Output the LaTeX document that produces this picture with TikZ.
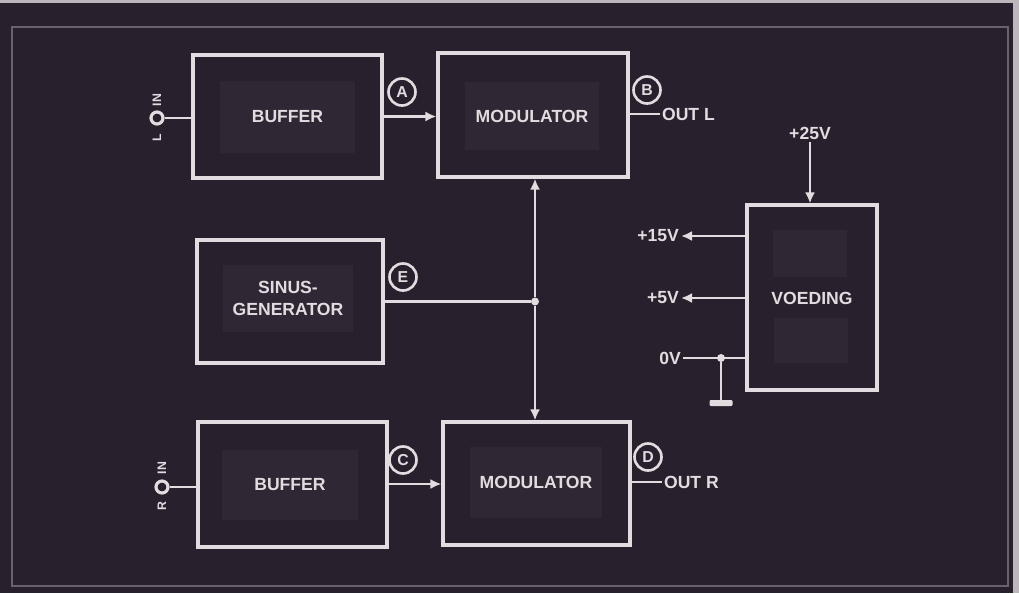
\documentclass[tikz,border=0pt]{standalone}
\usepackage{fontspec}
\setsansfont{Liberation Sans}
\usetikzlibrary{arrows.meta,calc,positioning}
\definecolor{achter}{RGB}{40,32,44}
\definecolor{wit}{RGB}{226,219,223}
\definecolor{vlek}{RGB}{47,39,51}
\tikzset{
  blok/.style={draw=wit,line width=1.8pt,inner sep=0pt},
  plak/.style={fill=vlek,inner sep=0pt,text=wit,align=center,
    font=\sffamily\bfseries\fontsize{10}{12.5}\selectfont},
  lijn/.style={draw=wit,line width=1.6pt},
  pijl/.style={lijn,-{Latex[length=2.2mm,width=2mm]}},
  letter/.style={circle,draw=wit,line width=1.5pt,minimum size=5.4mm,inner sep=0pt,
    text=wit,font=\sffamily\bfseries\small},
  klem/.style={circle,draw=wit,line width=1.8pt,minimum size=2.4mm,inner sep=0pt,fill=achter},
  etiket/.style={text=wit,inner sep=1pt,font=\sffamily\bfseries\fontsize{10}{12}\selectfont},
  klein/.style={text=wit,inner sep=0pt,font=\sffamily\bfseries\scriptsize},
  punt/.style={circle,fill=wit,inner sep=0pt,minimum size=1.6mm}
}

\begin{document}
\begin{tikzpicture}[x=0.02cm,y=-0.02cm]
\fill[achter] (0,0) rectangle (1019,593);
\useasboundingbox (0,0) rectangle (1019,593);
% rand van de foto
\fill[wit!80!achter] (0,0) rectangle (1019,3);
\fill[wit!80!achter] (1013,0) rectangle (1019,593);
\draw[wit!35!achter,line width=0.8pt] (12,27) rectangle (1008,586);

% kanaal L
\node[blok,minimum width=3.78cm,minimum height=2.46cm] (buf1) at (287.5,116.5) {};
\node[plak,minimum width=2.7cm,minimum height=1.44cm] (buf1t) at (buf1) {BUFFER};
\node[blok,minimum width=3.8cm,minimum height=2.48cm] (mod1) at (533,115) {};
\node[plak,minimum width=2.7cm,minimum height=1.36cm] (mod1t) at (532,116) {MODULATOR};
\node[klem] (inL) at (157,118) {};
\node[klein,rotate=90] (inLa) at (157,100) {IN};
\node[klein,rotate=90] (inLb) at (157,138) {L};
\draw[lijn] (inL) -- (inL -| buf1.west);
\draw[pijl] (buf1.east) -- (buf1.east -| mod1.west);
\node[letter] (A) at (402,92) {A};
\node[letter] (B) at (647,90) {B};
\node[etiket,anchor=west] (outL) at (660,114) {OUT L};
\draw[lijn] (outL.west -| mod1.east) -- (outL.west);

% sinusgenerator
\node[blok,minimum width=3.72cm,minimum height=2.46cm] (sinus) at (290,301.5) {};
\node[plak,minimum width=2.62cm,minimum height=1.34cm] (sinust) at (288,298) {SINUS-\\GENERATOR};
\node[letter] (E) at (403,277) {E};
\node[punt] (knoop) at (535,301.5) {};
\draw[lijn] (sinus.east) -- (knoop);
\draw[pijl] (knoop) -- (knoop |- mod1.south);

% kanaal R
\node[blok,minimum width=3.78cm,minimum height=2.5cm] (buf2) at (292.5,484.5) {};
\node[plak,minimum width=2.72cm,minimum height=1.4cm] (buf2t) at (290,485) {BUFFER};
\node[blok,minimum width=3.74cm,minimum height=2.46cm] (mod2) at (536.5,483.5) {};
\node[plak,minimum width=2.66cm,minimum height=1.42cm] (mod2t) at (536,482) {MODULATOR};
\node[klem] (inR) at (162,487) {};
\node[klein,rotate=90] (inRa) at (162,468) {IN};
\node[klein,rotate=90] (inRb) at (162,506) {R};
\draw[lijn] (inR) -- (inR -| buf2.west);
\draw[pijl] (buf2.east |- 0,484) -- (mod2.west |- 0,484);
\draw[pijl] (knoop) -- (knoop |- mod2.north);
\node[letter] (C) at (403,460) {C};
\node[letter] (D) at (648,457) {D};
\node[etiket,anchor=west] (outR) at (662,482) {OUT R};
\draw[lijn] (outR.west -| mod2.east) -- (outR.west);

% voeding
\node[blok,minimum width=2.6cm,minimum height=3.7cm] (voeding) at (812,297.5) {};
\node[plak,minimum width=1.5cm,minimum height=0.94cm] (voedA) at (810,253) {};
\node[plak,minimum width=1.5cm,minimum height=0.9cm] (voedB) at (811,340) {};
\node[etiket] (voedt) at (812,298) {VOEDING};
\node[etiket,anchor=south] (v25) at (810,142) {+25V};
\draw[pijl] (v25.south) -- (v25.south |- voeding.north);
\node[etiket,anchor=east] (v15) at (681,236) {+15V};
\node[etiket,anchor=east] (v5) at (681,298) {+5V};
\node[etiket,anchor=east] (v0) at (683,358) {0V};
\draw[pijl] (v15 -| voeding.west) -- (v15.east);
\draw[pijl] (v5 -| voeding.west) -- (v5.east);
\draw[lijn] (v0 -| voeding.west) -- (v0.east);
\node[punt] (nul) at (721,358) {};
\node[fill=wit,minimum width=0.46cm,minimum height=0.12cm,inner sep=0pt,rounded corners=0.6pt] (aarde) at (721,403) {};
\draw[lijn] (nul) -- (aarde);
\end{tikzpicture}
\end{document}
